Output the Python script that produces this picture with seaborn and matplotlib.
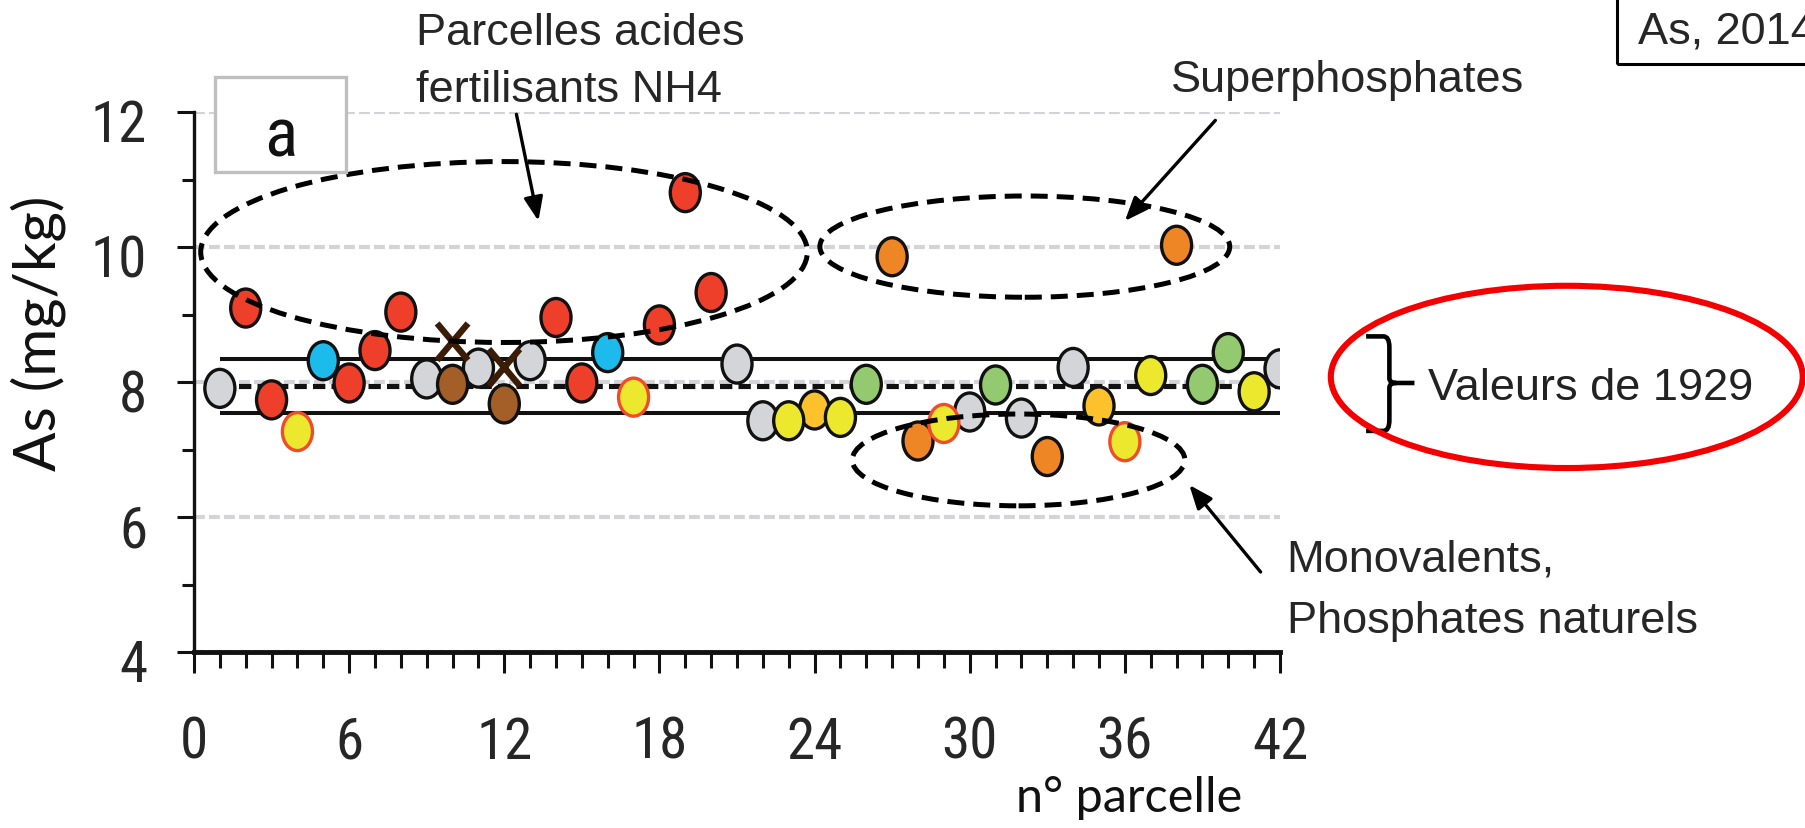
import numpy as np
import pandas as pd
import seaborn as sns
import matplotlib
matplotlib.use("Agg")
import matplotlib.pyplot as plt
from matplotlib import font_manager
from matplotlib.path import Path
from matplotlib.patches import Ellipse, Rectangle, PathPatch
from matplotlib.markers import MarkerStyle
from matplotlib.ticker import MultipleLocator
from matplotlib.transforms import Affine2D, ScaledTranslation

# ---------------------------------------------------------------- data
parcelles = list(range(1, 43))
as_2014 = [7.91, 9.10, 7.74, 7.27, 8.32, 7.99, 8.47, 9.04, 8.05, 7.97,
           8.21, 7.68, 8.32, 8.96, 7.99, 8.44, 7.78, 8.85, 10.81, 9.33,
           8.27, 7.43, 7.43, 7.59, 7.48, 7.97, 9.86, 7.13, 7.39, 7.56,
           7.96, 7.47, 6.90, 8.22, 7.65, 7.12, 8.10, 10.03, 7.97, 8.44,
           7.86, 8.20]
groupes = ["gris", "rouge", "rouge", "jaune cerclé", "bleu", "rouge", "rouge", "rouge", "gris", "brun",
           "gris", "brun", "gris", "rouge", "rouge", "bleu", "jaune cerclé", "rouge", "rouge", "rouge",
           "gris", "gris", "jaune", "or", "jaune", "vert", "orange", "orange", "jaune cerclé", "gris",
           "vert", "gris", "orange", "gris", "or", "jaune cerclé", "jaune", "orange", "vert", "vert",
           "jaune", "gris"]

# second measurement shown as crosses
parcelles_croix = [10, 12]
as_croix = [8.60, 8.22]

# 1929 reference values: low, mean, high
ref_1929_bas = 7.55
ref_1929_moy = 7.94
ref_1929_haut = 8.35

x_ticks = [0, 6, 12, 18, 24, 30, 36, 42]
y_ticks = [4, 6, 8, 10, 12]

palette = {
    "gris": "#d4d5d8", "rouge": "#ee3f2b", "bleu": "#1cbbec", "brun": "#a35f27",
    "vert": "#93ca70", "orange": "#ee8625", "or": "#fcc12b", "jaune": "#ece82d",
    "jaune cerclé": "#ece82d",
}
ordre = ["gris", "rouge", "bleu", "brun", "vert", "orange", "or", "jaune", "jaune cerclé"]


# ---------------------------------------------------------------- fonts
def police_axes():
    """Narrow sans for the axis numbers; falls back to a regular sans, smaller."""
    etroites = [f for f in font_manager.fontManager.ttflist
                if f.stretch in ("condensed", "semi-condensed", "extra-condensed")
                and f.style == "normal" and f.weight in (400, "normal", "regular")]
    pref = ["Liberation Sans Narrow", "Arial Narrow", "Roboto Condensed",
            "Open Sans Condensed", "Noto Sans", "DejaVu Sans", "Open Sans", "Roboto"]
    for nom in pref:
        for f in etroites:
            if f.name == nom:
                return dict(family=f.name, stretch=f.stretch), 1.0
    for f in etroites:
        if "Mono" not in f.name and "Serif" not in f.name:
            return dict(family=f.name, stretch=f.stretch), 1.0
    return dict(family="Roboto", stretch="normal"), 0.84


POLICE_AXES, ECHELLE = police_axes()

# ---------------------------------------------------------------- figure
W, H = 1806, 829
sns.set_style("ticks")
plt.rcParams["font.family"] = ["Liberation Sans", "DejaVu Sans"]

fig = plt.figure(figsize=(W / 100, H / 100), dpi=100)
ax = fig.add_axes([194 / W, 1 - 653.3 / H, 1086 / W, 540 / H])


def fpos(x, y):
    """pixel position -> figure fraction"""
    return x / W, 1 - y / H


df = pd.DataFrame({"parcelle": parcelles, "As": as_2014, "groupe": groupes})
df["rang"] = df["groupe"].map({g: i for i, g in enumerate(ordre)})
df = df.sort_values(["rang", "parcelle"], kind="stable")
bords = ["#f04b2b" if g == "jaune cerclé" else "#111111" for g in df["groupe"]]

rond = MarkerStyle(Path.unit_circle().transformed(Affine2D().scale(0.79, 1.0)))
croix = MarkerStyle(Path([(-0.42, -0.5), (0.42, 0.5), (-0.42, 0.5), (0.42, -0.5)],
                         [Path.MOVETO, Path.LINETO, Path.MOVETO, Path.LINETO]))

# reference bands of 1929
ax.hlines([ref_1929_bas, ref_1929_haut], 1, 42, colors="#111111", linewidth=2.9, zorder=2)
ax.hlines([ref_1929_moy], 1, 42, colors="#111111", linewidth=3.7,
          linestyles=[(0, (2.4, 1.2))], zorder=2)

sns.scatterplot(data=df, x="parcelle", y="As", hue="groupe", palette=palette,
                marker=rond, s=750, edgecolor=bords, linewidth=2.4,
                legend=False, ax=ax, zorder=4)
sns.scatterplot(x=parcelles_croix, y=as_croix, marker=croix, s=700,
                color="#3b1d07", facecolor="none", edgecolor="#3b1d07",
                linewidth=4.6, legend=False, ax=ax, zorder=6)

# axes styling
ax.set_xlim(0, 42)
ax.set_ylim(4, 12)
ax.set_xticks(x_ticks)
ax.set_yticks(y_ticks)
ax.xaxis.set_minor_locator(MultipleLocator(1))
ax.yaxis.set_minor_locator(MultipleLocator(1))
ax.set_xlabel("")
ax.set_ylabel("")
for s in ("top", "right"):
    ax.spines[s].set_visible(False)
ax.spines["left"].set_linewidth(2.4)
ax.spines["bottom"].set_linewidth(3.5)
ax.spines["left"].set_color("#111111")
ax.spines["bottom"].set_color("#111111")
taille = 41 * ECHELLE
ax.tick_params(axis="x", which="major", length=15, width=2.2, pad=30 + (41 - taille) * 0.55,
               labelsize=taille, color="#111111")
ax.tick_params(axis="x", which="minor", length=11.5, width=2.2, color="#111111")
ax.tick_params(axis="y", which="major", length=12.3, width=2.2, pad=21.5, labelsize=taille,
               color="#111111")
ax.tick_params(axis="y", which="minor", length=9, width=2.2, color="#111111")
for t in ax.xaxis.get_major_ticks() + ax.yaxis.get_major_ticks():
    t.label1.set_family(POLICE_AXES["family"])
    t.label1.set_stretch(POLICE_AXES["stretch"])
ax.yaxis.grid(True, which="major", color="#d4d4d8", linewidth=3.0, linestyle=(0, (2.6, 1.0)))
ax.xaxis.grid(False)
ax.set_axisbelow(True)
for lab in ax.get_yticklabels():
    lab.set_transform(lab.get_transform() + ScaledTranslation(0, -7.5 / 100, fig.dpi_scale_trans))

fig.text(*fpos(38.5, 333), "As (mg/kg)", rotation=90, ha="center", va="center",
         fontsize=42, family=["Lato", "DejaVu Sans"], color="#111111")
fig.text(*fpos(1016, 811.7), "n° parcelle", ha="left", va="baseline",
         fontsize=35, family=["Lato", "DejaVu Sans"], color="#111111")

# panel tag
ax.add_patch(Rectangle((0.81, 11.12), 5.07, 1.40, facecolor="white", edgecolor="#bfbfbf",
                       linewidth=2.4, clip_on=False, zorder=8))
ax.text(3.36, 11.36, "a", ha="center", va="baseline", fontsize=50 * ECHELLE,
        family=POLICE_AXES["family"], stretch=POLICE_AXES["stretch"],
        color="#111111", zorder=9)

# dashed groupings
tirets = (0, (3.4, 1.8))
for (cx, cy, w, h) in [(11.99, 9.93, 23.46, 2.68),
                       (32.13, 10.01, 15.85, 1.50),
                       (31.89, 6.85, 12.86, 1.36)]:
    ax.add_patch(Ellipse((cx, cy), w, h, fill=False, edgecolor="black",
                         linewidth=3.6, linestyle=tirets, zorder=7))

fleche = dict(arrowstyle="-|>,head_length=0.45,head_width=0.18", color="black",
              lw=2.4, mutation_scale=32, shrinkA=0, shrinkB=0)
ax.annotate("", xy=(13.32, 10.39), xytext=(12.47, 11.97), arrowprops=fleche,
            annotation_clip=False, zorder=8)
ax.annotate("", xy=(36.0, 10.39), xytext=(39.5, 11.88), arrowprops=fleche,
            annotation_clip=False, zorder=8)
ax.annotate("", xy=(38.49, 6.48), xytext=(41.25, 5.19), arrowprops=fleche,
            annotation_clip=False, zorder=8)

FS = 32.5
fig.text(*fpos(416, 45), "Parcelles acides", ha="left", va="baseline", fontsize=FS)
fig.text(*fpos(416, 101.7), "fertilisants NH4", ha="left", va="baseline", fontsize=FS)
fig.text(*fpos(1171, 91.7), "Superphosphates", ha="left", va="baseline", fontsize=FS)
fig.text(*fpos(1286.7, 571.7), "Monovalents,", ha="left", va="baseline", fontsize=FS)
fig.text(*fpos(1286.7, 633.3), "Phosphates naturels", ha="left", va="baseline", fontsize=FS)

# 1929 bracket and highlight
acc = Path([(45.33, 8.68), (46.0, 8.68), (46.23, 8.68), (46.23, 8.52),
            (46.23, 8.06), (46.23, 7.99), (46.50, 7.99), (47.2, 7.99),
            (46.50, 7.99), (46.23, 7.99), (46.23, 7.92),
            (46.23, 7.44), (46.23, 7.28), (46.0, 7.28), (45.33, 7.28)],
           [Path.MOVETO, Path.LINETO, Path.CURVE3, Path.CURVE3,
            Path.LINETO, Path.CURVE3, Path.CURVE3, Path.LINETO,
            Path.MOVETO, Path.CURVE3, Path.CURVE3,
            Path.LINETO, Path.CURVE3, Path.CURVE3, Path.LINETO])
ax.add_patch(PathPatch(acc, fill=False, edgecolor="black", linewidth=3.3,
                       clip_on=False, zorder=8))
ax.add_patch(Ellipse((53.09, 8.08), 18.25, 2.70, fill=False, edgecolor="#f50000",
                     linewidth=4.4, clip_on=False, zorder=8))
fig.text(*fpos(1428, 400), "Valeurs de 1929", ha="left", va="baseline", fontsize=FS,
         color="#222222")

# year box in the corner
fig.add_artist(Rectangle(fpos(1616.7, 65), 0.2, 0.2, transform=fig.transFigure,
                         fill=False, edgecolor="black", linewidth=2.2))
fig.text(*fpos(1638.3, 43.3), "As, 2014", ha="left", va="baseline", fontsize=FS)

fig.savefig("out.png", dpi=100, facecolor="white")
